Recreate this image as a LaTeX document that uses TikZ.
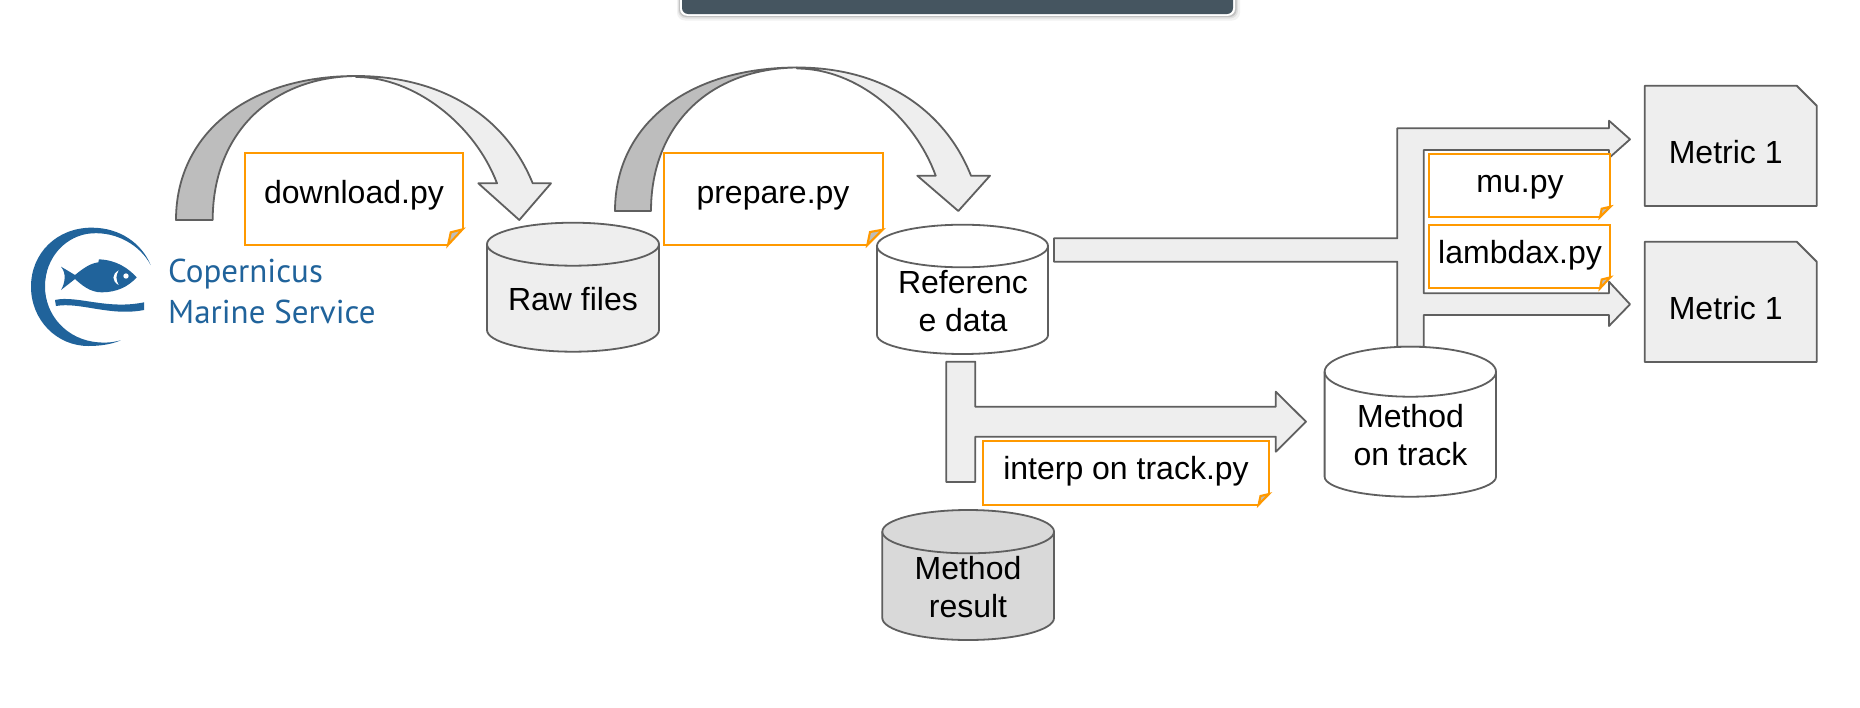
\documentclass[tikz,border=0pt]{standalone}
\usepackage{fontspec}
\setmainfont{Liberation Sans}
\newfontfamily\logofont{PT Sans}
\definecolor{linegray}{HTML}{5F5F5F}
\definecolor{lightfill}{HTML}{EEEEEE}
\definecolor{darkfill}{HTML}{BDBDBD}
\definecolor{midfill}{HTML}{D9D9D9}
\definecolor{noteorange}{HTML}{FF9900}
\definecolor{barblue}{HTML}{455560}
\definecolor{logoblue}{HTML}{20639B}
\newcommand{\cylshape}[7]{%
  % #1 left, #2 right, #3 top, #4 ellipse bottom, #5 body side end, #6 base, #7 fill
  \pgfmathsetmacro{\cxm}{(#1+#2)/2}\pgfmathsetmacro{\cym}{(#3+#4)/2}%
  \pgfmathsetmacro{\kx}{(#2-#1)/2*0.5523}\pgfmathsetmacro{\ky}{(#4-#3)/2*0.5523}%
  \pgfmathsetmacro{\kb}{(#6-#5)*0.5523}%
  \draw[shapeline,fill=#7] (#1,\cym) .. controls (#1,\cym-\ky) and (\cxm-\kx,#3) .. (\cxm,#3)
     .. controls (\cxm+\kx,#3) and (#2,\cym-\ky) .. (#2,\cym)
     -- (#2,#5) .. controls (#2,#5+\kb) and (\cxm+\kx,#6) .. (\cxm,#6)
     .. controls (\cxm-\kx,#6) and (#1,#5+\kb) .. (#1,#5) -- cycle;
  \draw[shapeline] (#1,\cym) .. controls (#1,\cym+\ky) and (\cxm-\kx,#4) .. (\cxm,#4)
     .. controls (\cxm+\kx,#4) and (#2,\cym+\ky) .. (#2,\cym);
}
\newcommand{\notebox}[8]{%
  % #1 left #2 right #3 top #4 bottom #5 cut x #6 cut y #7 inner x #8 inner y
  \fill[white] (#1,#3) -- (#2,#3) -- (#2,#6) -- (#5,#4) -- (#1,#4) -- cycle;
  \draw[noteline,fill=darkfill] (#5,#4) -- (#7,#8) -- (#2,#6) -- cycle;
  \draw[noteline] (#5,#4) -- (#1,#4) -- (#1,#3) -- (#2,#3) -- (#2,#6);
}
\tikzset{
  shapeline/.style={draw=linegray,line width=1.8pt,line join=round},
  noteline/.style={draw=noteorange,line width=2.1pt,line join=miter},
  lbl/.style={inner sep=0pt,anchor=base,align=center,font=\fontsize{32}{37.7}\selectfont,text=black},
  logotext/.style={inner sep=0pt,anchor=base west,text=logoblue,font=\logofont\fontsize{33}{33}\selectfont},
}
\begin{document}
\begin{tikzpicture}[x=1pt,y=-1pt]
\useasboundingbox (0,0) rectangle (1860,707);
\fill[white] (0,0) rectangle (1860,707);

% top bar
\fill[black!5,rounded corners=8pt] (677,-20) rectangle (1240,20.5);
\fill[black!12,rounded corners=8pt] (678,-20) rectangle (1238,18.5);
\fill[black!24,rounded corners=7pt] (679,-20) rectangle (1236.5,17);
\fill[white,rounded corners=7pt] (680,-20) rectangle (1235,15.8);
\fill[barblue,rounded corners=6pt] (682,-20) rectangle (1233,14);

% curved arrow 1
\draw[shapeline,fill=lightfill] (356,77) .. controls (415,77) and (475,125) .. (497,183.3)
  -- (478.3,183.3) -- (519.3,220) -- (551,183.3) -- (532.7,183.3)
  .. controls (505,115) and (440,76) .. (356,76) -- cycle;
\draw[shapeline,fill=darkfill] (176,220) .. controls (176,133.6) and (248,76) .. (356,76)
  .. controls (270.5,77) and (212.7,134) .. (212.7,220) -- cycle;

% curved arrow 2
\draw[shapeline,fill=lightfill] (797,68.5) .. controls (856,68.5) and (914,116) .. (935.7,175.7)
  -- (917.3,175.7) -- (958.3,211) -- (990,175.7) -- (971,175.7)
  .. controls (944,108) and (881,67.5) .. (797,67.5) -- cycle;
\draw[shapeline,fill=darkfill] (615,211) .. controls (615,124.6) and (687.8,67.5) .. (797,67.5)
  .. controls (709.4,68.5) and (651,125.2) .. (651,211) -- cycle;

% forked arrow to the metrics
\draw[shapeline,fill=lightfill] (1054,238.3) -- (1397.3,238.3) -- (1397.3,128.3) -- (1609,128.3)
  -- (1609,120.7) -- (1630,139.3) -- (1609,158) -- (1609,150) -- (1423.7,150) -- (1423.7,293.3)
  -- (1609,293.3) -- (1609,281.7) -- (1630,304.3) -- (1609,326) -- (1609,315) -- (1423.7,315)
  -- (1423.7,346.7) -- (1397.3,346.7) -- (1397.3,261.7) -- (1054,261.7) -- cycle;

% interp arrow
\draw[shapeline,fill=lightfill] (946.3,361.7) -- (975.3,361.7) -- (975.3,406.7) -- (1275.8,406.7)
  -- (1275.8,391.7) -- (1306,421.7) -- (1275.8,451.7) -- (1275.8,436.7) -- (975.3,436.7)
  -- (975.3,482) -- (946.3,482) -- cycle;

% cylinders
\cylshape{487}{659}{222.7}{265.7}{330}{351.7}{lightfill}
\cylshape{877}{1048}{224.7}{267.3}{335}{354}{white}
\cylshape{1324.6}{1496}{346.7}{396.7}{476.7}{496.7}{white}
\cylshape{882.3}{1054}{510}{553.3}{618}{640}{midfill}

% metric documents
\draw[shapeline,fill=lightfill] (1644.7,85.7) -- (1796.7,85.7) -- (1816.7,105.7) -- (1816.7,206) -- (1644.7,206) -- cycle;
\draw[shapeline,fill=lightfill] (1644.7,241.7) -- (1796.7,241.7) -- (1816.7,261.7) -- (1816.7,362) -- (1644.7,362) -- cycle;

% notes
\notebox{245}{462.6}{152.7}{245}{448}{229.3}{450.8}{232.3}
\notebox{664}{882.7}{152.7}{245}{867.3}{229.7}{870}{232}
\notebox{1429.3}{1610.3}{154}{217}{1600}{206.7}{1601.7}{208.7}
\notebox{1429.3}{1610.3}{224.7}{288.3}{1600}{277.3}{1601.7}{279.5}
\notebox{983.3}{1269}{440.7}{504.7}{1258.6}{494}{1260.5}{496}

% labels
\node[lbl] (download) at (354,203) {download.py};
\node[lbl] (prepare) at (773,203) {prepare.py};
\node[lbl] (raw) at (573,310.5) {Raw files};
\node[lbl] (reference) at (963,331) {Referenc\\e data};
\node[lbl] (onTrack) at (1410.5,465) {Method\\on track};
\node[lbl] (result) at (968,617.2) {Method\\result};
\node[lbl] (interp) at (1126,479) {interp on track.py};
\node[lbl] (mu) at (1520,192.7) {mu.py};
\node[lbl] (lambdax) at (1520,263) {lambdax.py};
\node[lbl] (metricA) at (1725.7,163.2) {Metric 1};
\node[lbl] (metricB) at (1725.7,319) {Metric 1};

% logo
\begin{scope}[shift={(20,215)},scale=1/3]
  \fill[logoblue] (392,150) .. controls (365,85) and (300,38) .. (215,38)
     .. controls (110,38) and (33,115) .. (33,215)
     .. controls (33,315) and (110,393) .. (205,393)
     .. controls (240,393) and (275,388) .. (302,376)
     .. controls (275,383) and (255,384) .. (235,382)
     .. controls (140,375) and (75,300) .. (75,215)
     .. controls (75,125) and (140,60) .. (215,55)
     .. controls (290,50) and (360,90) .. (392,150) -- cycle;
  \fill[logoblue] (123,155) -- (165,180) .. controls (190,160) and (210,145) .. (235,142) -- (237,133)
     .. controls (290,135) and (325,160) .. (350,187)
     .. controls (325,215) and (290,232) .. (245,232)
     .. controls (210,232) and (185,210) .. (165,192) -- (123,225)
     .. controls (135,205) and (140,175) .. (123,155) -- cycle;
  \fill[white] (318,183) circle[radius=8];
  \fill[white] (296,166) .. controls (275,178) and (275,198) .. (296,210)
     .. controls (287,195) and (287,180) .. (296,166) -- cycle;
  \fill[logoblue] (105,255) .. controls (170,240) and (260,285) .. (372,262)
     -- (372,285) .. controls (270,305) and (180,260) .. (108,273) -- cycle;
\end{scope}
\node[logotext] (copernicus) at (168,282.5) {Copernicus};
\node[logotext] (marine) at (168,323.3) {Marine Service};
\end{tikzpicture}
\end{document}
